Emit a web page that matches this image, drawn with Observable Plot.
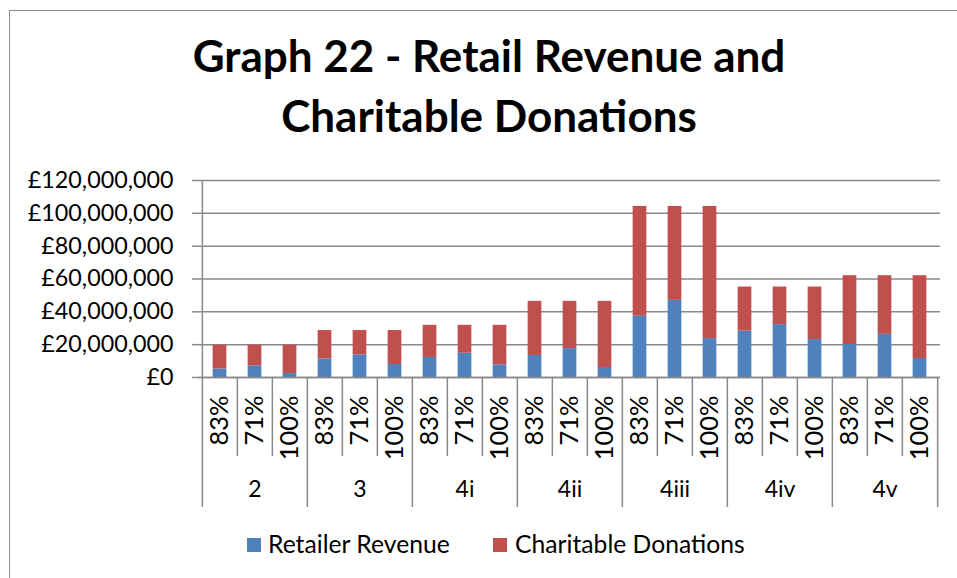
<!DOCTYPE html>
<html><head><meta charset="utf-8">
<script src="https://cdn.jsdelivr.net/npm/d3@7"></script>
<script src="https://cdn.jsdelivr.net/npm/@observablehq/plot@0.6"></script>
<style>
html,body{margin:0;padding:0;overflow:hidden;background:#fff;font-family:Lato,sans-serif;}
#frame{position:absolute;left:9px;top:10px;width:1100px;height:1000px;border:1px solid #8c8c8c;box-sizing:border-box;}
#title{position:absolute;left:0;top:25px;width:978px;text-align:center;font-weight:bold;font-size:44px;line-height:60px;color:#000;}
#chart{position:absolute;left:0;top:160px;}
.leg{position:absolute;top:531px;font-size:24.7px;line-height:25px;color:#000;white-space:nowrap;}
.sw{position:absolute;top:538px;width:14px;height:14px;}
</style></head>
<body>
<div id="frame"></div>
<div id="title">Graph 22 - Retail Revenue and<br>Charitable Donations</div>
<div id="chart"></div>
<div class="sw" style="left:247px;background:#4F81BD"></div>
<div class="leg" style="left:268px">Retailer Revenue</div>
<div class="sw" style="left:493px;background:#C0504D"></div>
<div class="leg" style="left:515px">Charitable Donations</div>
<script>
const groups = ["2", "3", "4i", "4ii", "4iii", "4iv", "4v"];
const rates = ["83%", "71%", "100%"];
const seriesNames = ["Retailer Revenue", "Charitable Donations"];
const seriesColors = ["#4F81BD", "#C0504D"];
// one value per bar, in group order then rate order
const retailer = [
  5200000, 7100000, 2400000,
  11300000, 13800000, 7900000,
  12200000, 14800000, 7700000,
  13400000, 17600000, 6100000,
  37300000, 47000000, 23700000,
  28200000, 32200000, 23100000,
  20100000, 26300000, 11600000
];
const charitable = [
  14500000, 12600000, 17300000,
  17300000, 14800000, 20700000,
  19600000, 17000000, 24100000,
  33000000, 28800000, 40300000,
  66900000, 57200000, 80500000,
  26900000, 22900000, 32000000,
  41900000, 35700000, 50400000
];
const yTicks = [0, 20000000, 40000000, 60000000, 80000000, 100000000, 120000000];

const rows = [];
const keys = [];
groups.forEach((g, i) => rates.forEach((r, j) => {
  const k = i * rates.length + j;
  const key = g + "|" + r;
  keys.push(key);
  rows.push({key, series: seriesNames[0], value: retailer[k]});
  rows.push({key, series: seriesNames[1], value: charitable[k]});
}));

const W = 957, H = 352, mL = 199, mR = 17, mT = 20, mB = 135;
const step = (W - mL - mR) / keys.length;
const plotH = H - mT - mB;
const inset = (step - 14) / 2;
const gray = "#898989";
const isFirst = k => k.endsWith("|" + rates[0]);

const chart = Plot.plot({
  width: W, height: H,
  marginLeft: mL, marginRight: mR, marginTop: mT, marginBottom: mB,
  style: {fontFamily: "Lato, sans-serif", background: "none", overflow: "visible", color: "black"},
  x: {domain: keys, padding: 0, axis: null, label: null},
  y: {domain: [0, 120000000], axis: null, label: null},
  color: {domain: seriesNames, range: seriesColors},
  marks: [
    Plot.gridY(yTicks, {stroke: gray, strokeOpacity: 1, strokeWidth: 1.5}),
    Plot.axisY(yTicks, {label: null, tickFormat: d => "£" + d3.format(",")(d), tickSize: 7, tickPadding: 19, fontSize: 23.3, stroke: gray, strokeWidth: 1.5}),
    Plot.barY(rows, {x: "key", y: "value", fill: "series", insetLeft: inset, insetRight: inset}),
    Plot.ruleY([0], {stroke: gray, strokeWidth: 1.5}),
    Plot.axisX({label: null, tickFormat: k => k.split("|")[1], tickRotate: -90, tickSize: 0, tickPadding: 18, fontSize: 25.5}),
    Plot.text(groups, {x: g => g + "|" + rates[1], text: d => d, frameAnchor: "bottom", dy: 119, fontSize: 23}),
    // y axis line + left border of bottom table
    Plot.ruleX([keys[0]], {dx: -step / 2, insetBottom: -130, stroke: gray, strokeWidth: 1.5}),
    // group boundaries
    Plot.ruleX(keys.filter((k, i) => i > 0 && isFirst(k)), {dx: -step / 2, insetTop: plotH, insetBottom: -130, stroke: gray, strokeWidth: 1.5}),
    Plot.ruleX([keys[keys.length - 1]], {dx: step / 2, insetTop: plotH, insetBottom: -130, stroke: gray, strokeWidth: 1.5}),
    // separators within groups
    Plot.ruleX(keys.filter(k => !isFirst(k)), {dx: -step / 2, insetTop: plotH, insetBottom: -79, stroke: gray, strokeWidth: 1.5})
  ]
});
document.getElementById("chart").appendChild(chart);
</script>
</body></html>
